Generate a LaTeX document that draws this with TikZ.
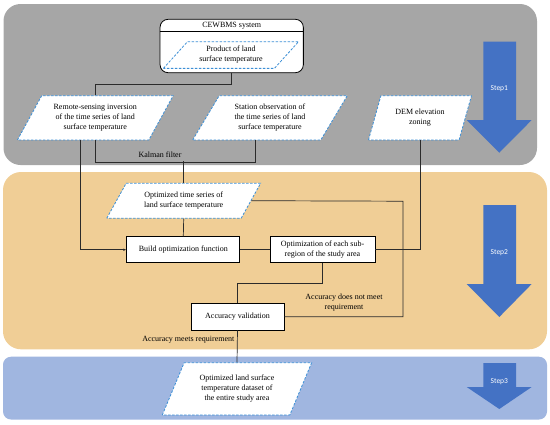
\documentclass[tikz,border=0pt]{standalone}
\usepackage{fontspec}
\setmainfont{Liberation Serif}
\newfontfamily\stepfont{Carlito}
\usetikzlibrary{arrows.meta,calc,positioning,shapes.geometric}
\definecolor{lstgray}{HTML}{A6A6A6}
\definecolor{lstorange}{HTML}{F0CE96}
\definecolor{lstblue}{HTML}{A0B6E0}
\definecolor{lststep}{HTML}{4472C4}
\definecolor{lstdash}{HTML}{3C8FD6}
\definecolor{lstline}{HTML}{2B2B2B}

\begin{document}
\begin{tikzpicture}[x=1pt, y=-1pt,
    txt/.style={font=\fontsize{8}{10}\selectfont, align=center, inner sep=1pt},
    box/.style={txt, draw=black, line width=0.8pt, fill=white, minimum height=26pt},
    para/.style={txt, trapezium, trapezium stretches=true,
                 trapezium left angle=#1, trapezium right angle={180-#1},
                 draw=lstdash, line width=0.8pt, dash pattern=on 2.5pt off 1.5pt,
                 fill=white, inner sep=0pt},
    link/.style={draw=lstline, line width=0.7pt},
    steplabel/.style={font=\stepfont\fontsize{7.5}{9}\selectfont, text=white}
  ]
  \useasboundingbox (0,0) rectangle (550,424);
  % the three bands
  \fill[lstgray, rounded corners=17pt]   (3.5,4) rectangle (537,165);
  \fill[lstorange, rounded corners=18pt] (3,172) rectangle (547,349.3);
  \fill[lstblue, rounded corners=8pt]    (3,356.7) rectangle (547,419.5);

  % step arrows
  \fill[lststep] (483.3,41.7) -- (516,41.7) -- (516,120) -- (531.7,120) -- (499.3,152.7)
                 -- (466.7,120) -- (483.3,120) -- cycle;
  \fill[lststep] (483.3,205) -- (516,205) -- (516,284) -- (531.7,284) -- (499.3,317)
                 -- (466.7,284) -- (483.3,284) -- cycle;
  \fill[lststep] (483.3,363) -- (516,363) -- (516,387) -- (531.7,387) -- (499.3,409)
                 -- (466.7,387) -- (483.3,387) -- cycle;
  \node[steplabel] (step1) at (499.3,89)  {Step1};
  \node[steplabel] (step2) at (499.3,253) {Step2};
  \node[steplabel] (step3) at (499.3,382) {Step3};

  % step 1
  \node[box, rounded corners=8pt, minimum width=143.3pt, minimum height=53.4pt] (cew) at (231.7,46) {};
  \node[txt] (cewtitle) at (231.7,25.7) {CEWBMS system};
  \draw[line width=0.8pt] ($(cew.north west)+(0,12.4)$) -- ($(cew.north east)+(0,12.4)$);
  \node[para=44.7, minimum width=136pt, minimum height=26.7pt] (prod) at (231,55)
       {Product of land\\surface temperature};
  \node[para=55, minimum width=156pt, minimum height=44.3pt] (rs) at (95.3,117.8)
       {Remote-sensing inversion\\of the time series of land\\surface temperature};
  \node[para=56, minimum width=154.7pt, minimum height=44.3pt] (st) at (270,117.8)
       {Station observation of\\the time series of land\\surface temperature};
  \node[para=65.7, minimum width=103.4pt, minimum height=44.3pt] (dem) at (420,117.8)
       {DEM elevation\\zoning};
  \node[txt] (kalman) at (160,155) {Kalman filter};

  % step 2
  \node[para=52.4, minimum width=154pt, minimum height=35pt] (opt) at (183.7,200.7)
       {Optimized time series of\\land surface temperature};
  \node[box, minimum width=113pt] (build) at (183.3,249.7) {Build optimization function};
  \node[box, minimum width=105pt] (sub) at (322.5,249.7) {Optimization of each sub-\\region of the study area};
  \node[box, minimum width=93pt, minimum height=26.7pt] (acc) at (237.5,316.7) {Accuracy validation};
  \node[txt] (fail) at (344,303) {Accuracy does not meet\\requirement};
  \node[txt, anchor=east] (pass) at (235.5,340) {Accuracy meets requirement};
  \coordinate (loop) at (403,201.2);

  % step 3
  \node[para=60.6, minimum width=149.4pt, minimum height=52.3pt] (fin) at (237,388.8)
       {Optimized land surface\\temperature dataset of\\the entire study area};

  % connectors
  \draw[link] (cew.south) -- ++(0,11.6) -| (rs.north);
  \draw[link, -{Latex[length=3pt,width=2.5pt]}] ([xshift=-15.3pt]rs.south) |- (build.west);
  \draw[link] (rs.south) -- ++(0,21.7) -| ([xshift=-15pt]st.south);
  \draw[link] (opt.north) -- ++(0,-21.6);
  \draw[link] (dem.south) |- (sub.east);
  \draw[link] (opt.south) -- (build.north);
  \draw[link] (build.east) -- (sub.west);
  \draw[link] (sub.south) -- ++(0,20.3) -| (acc.north);
  \draw[link] (acc.east) -| (loop) -- (opt.east);
  \draw[link] (acc.south) -- (fin.north);
\end{tikzpicture}
\end{document}
